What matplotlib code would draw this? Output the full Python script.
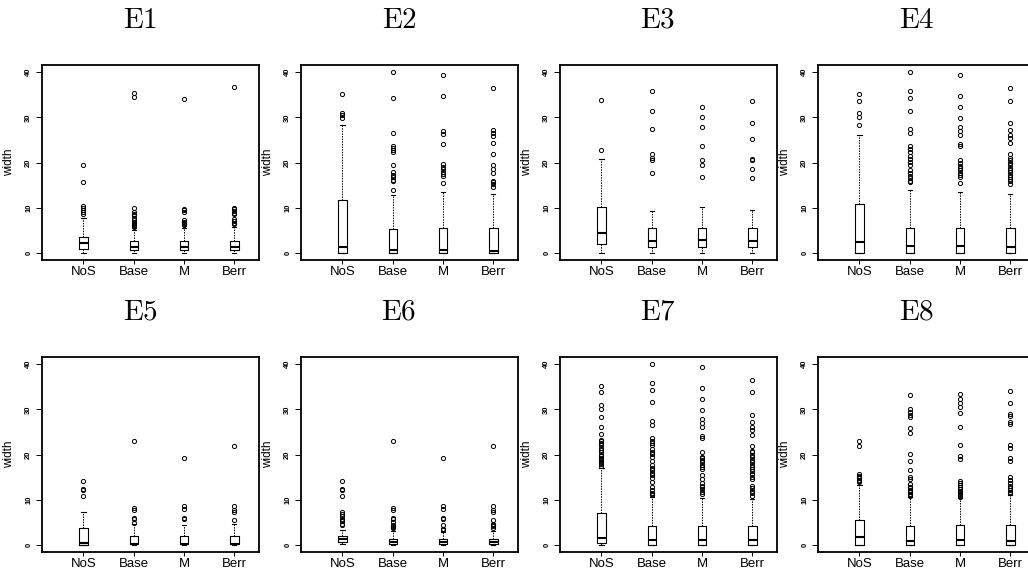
import matplotlib.pyplot as plt

plt.rcParams['font.family'] = ['Liberation Sans', 'DejaVu Sans']
plt.rcParams['mathtext.fontset'] = 'cm'

groups = ["NoS", "Base", "M", "Berr"]
titles = ["E1", "E2", "E3", "E4", "E5", "E6", "E7", "E8"]

# box stats per group: lower whisker, Q1, median, Q3, upper whisker
e1_box = [[0, 0.9, 2.2, 3.5, 7.6], [0, 0.7, 1.3, 2.5, 5.1],
          [0, 0.6, 1.3, 2.7, 5.6], [0, 0.6, 1.25, 2.7, 5.8]]
e1_out = [[19.5, 15.6, 10.4, 9.9, 9.4, 9.0, 8.7],
          [35.5, 34.5, 10.0, 9.0, 8.7, 8.4, 7.6, 7.2, 6.9, 6.6, 6.4, 6.2, 6.0, 5.8],
          [34.1, 9.8, 9.4, 9.0, 7.2, 6.8, 6.5, 6.3, 6.1],
          [36.7, 10.0, 9.6, 9.3, 8.9, 8.5, 7.5, 7.0, 6.7, 6.5, 6.3]]

e2_box = [[0, 0.05, 1.3, 11.8, 28.2], [0, 0.05, 0.7, 5.3, 12.7],
          [0, 0.05, 0.6, 5.4, 13.5], [0, 0.05, 0.5, 5.4, 13.0]]
e2_out = [[35.1, 31.0, 30.5, 29.8],
          [40.0, 34.4, 26.6, 23.6, 23.2, 22.7, 22.3, 19.4, 18.0, 17.3, 16.7, 16.2, 15.8, 13.9],
          [39.3, 34.7, 26.9, 26.3, 24.1, 19.6, 19.0, 18.5, 17.8, 17.4, 17.0, 15.5],
          [36.5, 27.2, 26.5, 25.8, 24.4, 21.9, 19.5, 18.5, 17.7, 16.0, 15.6, 15.2, 14.6]]

e3_box = [[0, 1.9, 4.3, 10.1, 20.8], [0, 1.2, 2.65, 5.6, 9.2],
          [0, 1.3, 2.8, 5.4, 10.2], [0, 1.2, 2.6, 5.5, 9.5]]
e3_out = [[33.8, 22.7],
          [35.8, 31.5, 27.4, 21.8, 21.0, 20.5, 17.6],
          [32.2, 30.0, 27.9, 23.6, 20.6, 19.4, 16.8],
          [33.7, 28.7, 25.2, 20.8, 20.5, 18.5, 16.5]]

e4_box = [[0, 0.05, 2.4, 10.8, 26.0], [0, 0.05, 1.4, 5.5, 13.8],
          [0, 0.05, 1.4, 5.45, 13.5], [0, 0.05, 1.3, 5.5, 13.1]]
e4_out = [[35.1, 33.7, 31.0, 30.1, 28.4],
          [40.0, 35.9, 34.3, 31.5, 27.5, 26.6, 23.6, 23.0, 22.4, 21.5, 20.8, 20.2, 19.4,
           18.4, 17.6, 17.0, 16.5, 16.0, 15.6],
          [39.3, 34.7, 32.2, 29.8, 27.8, 26.9, 26.2, 24.0, 23.6, 20.6, 19.8, 19.2, 18.8,
           18.4, 17.6, 17.2, 16.8, 15.5],
          [36.5, 33.7, 28.7, 27.2, 26.2, 25.5, 24.4, 21.9, 21.0, 20.6, 20.0, 19.4, 18.8,
           18.3, 17.8, 17.3, 16.8, 16.3, 15.8, 15.3]]

e5_box = [[0, 0.05, 0.5, 3.8, 7.2], [0, 0.15, 0.2, 1.85, 4.5],
          [0, 0.1, 0.2, 1.85, 4.4], [0, 0.1, 0.2, 1.85, 4.6]]
e5_out = [[14.1, 12.3, 12.1, 10.9],
          [23.0, 8.2, 7.7, 6.0, 5.8, 4.8],
          [19.2, 8.6, 7.9, 5.9, 5.7],
          [21.8, 8.5, 7.6, 7.3, 5.4]]

e6_box = [[0.1, 0.65, 1.2, 1.85, 3.2], [0, 0.2, 0.65, 1.25, 3.0],
          [0, 0.2, 0.65, 1.2, 2.8], [0, 0.2, 0.6, 1.25, 3.0]]
e6_out = [[14.1, 12.4, 12.2, 10.9, 7.2, 6.8, 6.3, 5.8, 5.5, 5.2, 4.6, 4.3],
          [23.0, 8.2, 7.7, 6.0, 5.8, 5.0, 4.4, 4.2, 4.0, 3.8],
          [19.2, 8.6, 7.9, 5.9, 5.7, 4.4, 3.6, 3.4, 3.2],
          [21.8, 8.5, 7.6, 7.3, 5.4, 4.5, 4.3, 4.1, 3.7]]

e7_box = [[0, 0.35, 1.6, 7.1, 17.0], [0, 0.05, 1.1, 4.2, 10.6],
          [0, 0.05, 1.1, 4.2, 10.3], [0, 0.05, 1.0, 4.2, 10.2]]
e7_out = [[35.1, 33.8, 31.0, 30.0, 28.3, 26.0, 24.5, 23.3, 23.0, 22.5, 22.0, 21.5, 21.0,
           20.6, 20.0, 19.6, 19.3, 19.0, 18.6, 18.2, 17.8, 17.4],
          [40.1, 35.9, 34.3, 31.6, 27.4, 26.6, 23.6, 23.0, 22.5, 22.0, 21.2, 20.6, 20.1,
           19.5, 18.5, 17.6, 17.0, 16.5, 16.0, 15.5, 14.7, 13.8, 12.9, 12.2, 11.5, 11.2, 11.0],
          [39.3, 34.7, 32.2, 29.9, 27.8, 26.9, 26.2, 24.0, 23.6, 20.6, 19.5, 19.2, 18.8,
           18.4, 17.6, 17.2, 16.8, 15.5, 14.6, 13.6, 13.1, 12.7, 12.3, 11.8, 11.3],
          [36.5, 33.8, 28.7, 27.1, 26.0, 25.4, 24.4, 21.8, 20.8, 20.5, 20.0, 19.4, 18.8,
           18.3, 17.7, 17.2, 16.8, 16.3, 15.6, 15.0, 14.5, 13.0, 12.6, 11.9, 11.5, 10.7]]

e8_box = [[0, 0.05, 1.8, 5.5, 13.3], [0, 0.05, 0.9, 4.2, 10.5],
          [0, 0.05, 0.95, 4.3, 10.3], [0, 0.05, 0.9, 4.4, 11.0]]
e8_out = [[22.9, 21.8, 15.6, 15.3, 15.0, 14.7, 14.4, 14.1, 13.8],
          [33.2, 30.1, 29.4, 28.8, 28.2, 25.8, 24.8, 20.1, 18.5, 16.5, 15.0, 14.5, 13.5,
           12.9, 12.5, 12.2, 11.9, 11.6, 11.3, 11.0, 10.7],
          [33.3, 32.3, 31.5, 30.6, 29.3, 26.0, 22.0, 19.6, 19.1, 14.1, 13.6, 13.2, 12.8,
           12.4, 12.0, 11.7, 11.3, 11.0, 10.6],
          [34.0, 31.4, 29.0, 28.6, 27.2, 26.7, 22.0, 21.5, 19.3, 18.5, 15.0, 14.4, 13.6,
           13.0, 12.6, 12.2, 11.8, 11.4]]

panels = [(e1_box, e1_out), (e2_box, e2_out), (e3_box, e3_out), (e4_box, e4_out),
          (e5_box, e5_out), (e6_box, e6_out), (e7_box, e7_out), (e8_box, e8_out)]

W, H = 1028, 573
fig = plt.figure(figsize=(W / 100, H / 100), dpi=100)

col_left = [42, 301, 560, 818]
row_top = [65, 357]
aw, ah = 217, 195

for i, (box, out) in enumerate(panels):
    r, c = divmod(i, 4)
    ax = fig.add_axes([col_left[c] / W, 1 - (row_top[r] + ah) / H, aw / W, ah / H])
    stats = [dict(whislo=b[0], q1=b[1], med=b[2], q3=b[3], whishi=b[4], fliers=o)
             for b, o in zip(box, out)]
    ax.bxp(stats, positions=[1, 2, 3, 4], widths=0.17, capwidths=0.085,
           boxprops=dict(color='black', lw=0.8),
           medianprops=dict(color='black', lw=1.5),
           whiskerprops=dict(color='black', lw=0.7, ls=(0, (1.5, 1.2))),
           capprops=dict(color='black', lw=0.8),
           flierprops=dict(marker='o', mfc='none', mec='black', ms=3, mew=0.7))
    ax.set_xlim(0.175, 4.49)
    ax.set_ylim(-1.6, 41.6)
    ax.set_yticks([0, 10, 20, 30, 40])
    ax.set_yticklabels(["0", "10", "20", "30", "40"], rotation=90, fontsize=5.5,
                       fontweight='bold', va='center')
    ax.set_xticks([1, 2, 3, 4])
    ax.set_xticklabels(groups, fontsize=9.5)
    ax.tick_params(axis='y', length=4, width=0.7, pad=3)
    ax.tick_params(axis='x', length=3, width=0.7, pad=1)
    ax.set_ylabel("width", fontsize=8.5)
    ax.yaxis.set_label_coords(-27 / aw, 0.5)
    for s in ax.spines.values():
        s.set_linewidth(1.3)

    fig.text((140 + 259 * c) / W, 1 - (20 + 292 * r) / H, r'$\mathrm{%s}$' % titles[i],
             fontsize=21, ha='center', va='center')

fig.savefig("out.png", dpi=100)
